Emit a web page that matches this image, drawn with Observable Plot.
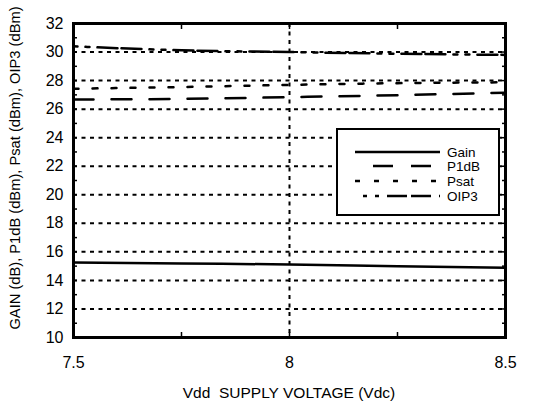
<!DOCTYPE html>
<html><head><meta charset="utf-8">
<script src="https://cdn.jsdelivr.net/npm/d3@7"></script>
<script src="https://cdn.jsdelivr.net/npm/@observablehq/plot@0.6"></script>
<style>body{margin:0;background:#fff;} svg{display:block;}</style>
</head><body><div id="chart"></div>
<script>
const voltage = [7.5, 7.75, 8, 8.25, 8.5];
const gain = [15.25, 15.18, 15.12, 14.99, 14.88];
const p1db = [26.68, 26.72, 26.84, 26.98, 27.15];
const psat = [27.43, 27.55, 27.70, 27.82, 27.88];
const oip3 = [30.40, 30.12, 30.00, 29.88, 29.80];
const seriesNames = ["Gain", "P1dB", "Psat", "OIP3"];
const seriesDash = [null, "20,18", "5,14", "4,8,4,8,20,4,20,8"];
const legendDashOffset = [0, 20, 0, 68];
const yTicks = [10, 12, 14, 16, 18, 20, 22, 24, 26, 28, 30, 32];
const yGrid = [12, 14, 16, 18, 20, 22, 24, 26, 28, 30];
const yMinor = d3.range(11, 32, 1);
const xTicks = [7.5, 8, 8.5];
const xGrid = [8];
const xMinor = [7.75, 8, 8.25];

const allSeries = [gain, p1db, psat, oip3];
const rows = [];
allSeries.forEach((vals, i) => vals.forEach((v, j) => rows.push({x: voltage[j], y: v, s: seriesNames[i]})));

const font = "'Liberation Sans', Arial, Helvetica, sans-serif";
const chart = Plot.plot({
  width: 557, height: 402,
  marginLeft: 73, marginRight: 52, marginTop: 23, marginBottom: 65,
  style: {fontFamily: font, fontSize: "16px", color: "#000", background: "#fff"},
  x: {domain: [7.5, 8.5]},
  y: {domain: [10, 32]},
  marks: [
    Plot.ruleY(yGrid, {stroke: "#000", strokeWidth: 2, strokeDasharray: "4,4.5"}),
    Plot.ruleX(xGrid, {stroke: "#000", strokeWidth: 2, strokeDasharray: "4,4.5"}),
    ...seriesNames.map((name, i) => Plot.line(rows.filter(d => d.s === name), {
      x: "x", y: "y", stroke: "#000", strokeWidth: 2.5,
      strokeDasharray: seriesDash[i] || undefined, curve: "monotone-x"
    })),
    Plot.axisY(yTicks, {anchor: "left", tickSize: 0, tickPadding: 10, label: null, fontSize: 16, tickFormat: d => String(d)}),
    Plot.axisY(yMinor, {anchor: "left", tickSize: -4, tickFormat: () => "", label: null, strokeWidth: 1.5}),
    Plot.axisY(yMinor, {anchor: "right", tickSize: -4, tickFormat: () => "", label: null, strokeWidth: 1.5}),
    Plot.axisX(xTicks, {anchor: "bottom", tickSize: 0, tickPadding: 19, label: null, fontSize: 16, tickFormat: d => String(d)}),
    Plot.axisX(xMinor, {anchor: "bottom", tickSize: -5, tickFormat: () => "", label: null, strokeWidth: 1.5}),
    Plot.axisX(xMinor, {anchor: "top", tickSize: -5, tickFormat: () => "", label: null, strokeWidth: 1.5}),
    Plot.frame({stroke: "#000", strokeWidth: 3})
  ]
});

const svg = d3.select(chart);
// axis titles
svg.append("text").attr("x", 289).attr("y", 398).attr("text-anchor", "middle")
  .attr("font-family", font).attr("font-size", 15.5).style("white-space", "pre").text("Vdd  SUPPLY VOLTAGE (Vdc)");
svg.append("text").attr("transform", "translate(20,168) rotate(-90)").attr("text-anchor", "middle")
  .attr("font-family", font).attr("font-size", 14.7).text("GAIN (dB), P1dB (dBm), Psat (dBm), OIP3 (dBm)");
// legend
const lg = svg.append("g");
lg.append("rect").attr("x", 337).attr("y", 129).attr("width", 162).attr("height", 86)
  .attr("fill", "#fff").attr("stroke", "#000").attr("stroke-width", 2);
const ly = [152, 166, 181, 196];
seriesNames.forEach((name, i) => {
  const ln = lg.append("line").attr("x1", 355).attr("x2", 440).attr("y1", ly[i]).attr("y2", ly[i])
    .attr("stroke", "#000").attr("stroke-width", 2.5);
  if (seriesDash[i]) ln.attr("stroke-dasharray", seriesDash[i]).attr("stroke-dashoffset", legendDashOffset[i]);
  lg.append("text").attr("x", 447).attr("y", ly[i]).attr("dy", "0.35em").attr("text-anchor", "start")
    .attr("font-family", font).attr("font-size", 13.5).text(name);
});
document.getElementById("chart").append(chart);
</script>
</body></html>
